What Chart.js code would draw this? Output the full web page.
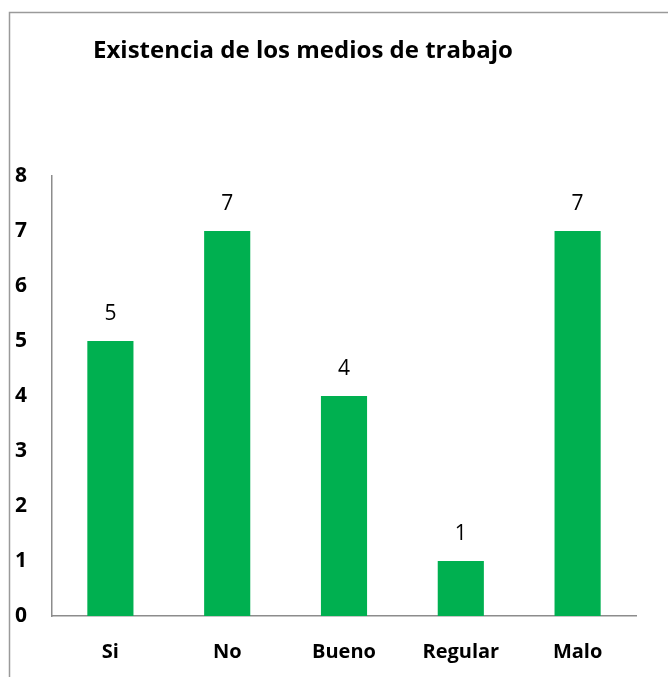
<!DOCTYPE html>
<html>
<head>
<meta charset="utf-8">
<script src="https://cdn.jsdelivr.net/npm/chart.js@4.4.0/dist/chart.umd.min.js"></script>
<style>
  html, body { margin: 0; padding: 0; background: #ffffff; }
  #wrap { position: relative; width: 668px; height: 677px; }
</style>
</head>
<body>
<div id="wrap"><canvas id="c" width="668" height="677"></canvas></div>
<script>
const chartTitle = "Existencia de los medios de trabajo";
const categories = ["Si", "No", "Bueno", "Regular", "Malo"];
const values = [5, 7, 4, 1, 7];
const yTicks = [0, 1, 2, 3, 4, 5, 6, 7, 8];

const FONT = "'Open Sans', Lato, sans-serif";
const GREEN = "#00B050";

const framePlugin = {
  id: "frame",
  beforeDraw(chart) {
    const ctx = chart.ctx;
    ctx.save();
    ctx.fillStyle = "#ffffff";
    ctx.fillRect(0, 0, chart.width, chart.height);
    ctx.strokeStyle = "#9a9a9a";
    ctx.lineWidth = 1.5;
    ctx.beginPath();
    ctx.moveTo(9.5, chart.height);
    ctx.lineTo(9.5, 12.5);
    ctx.lineTo(chart.width, 12.5);
    ctx.stroke();
    ctx.restore();
  },
  afterDraw(chart) {
    const ctx = chart.ctx;
    ctx.save();
    ctx.fillStyle = "#000000";
    ctx.font = "bold 24px " + FONT;
    ctx.textAlign = "left";
    ctx.textBaseline = "middle";
    ctx.fillText(chartTitle, 93, 51);
    // value labels
    const meta = chart.getDatasetMeta(0);
    ctx.font = "21px " + FONT;
    ctx.textAlign = "center";
    ctx.textBaseline = "middle";
    meta.data.forEach((bar, i) => {
      ctx.fillText(String(values[i]), bar.x, bar.y - 27);
    });
    ctx.restore();
  }
};

new Chart(document.getElementById("c"), {
  type: "bar",
  data: {
    labels: categories,
    datasets: [{
      data: values,
      backgroundColor: GREEN,
      borderWidth: 0,
      barPercentage: 0.395,
      categoryPercentage: 1.0
    }]
  },
  options: {
    responsive: false,
    animation: false,
    devicePixelRatio: 1,
    layout: { padding: { top: 176, right: 32, bottom: 0, left: 0 } },
    plugins: { legend: { display: false }, title: { display: false }, tooltip: { enabled: false } },
    scales: {
      x: {
        grid: { display: false, drawTicks: false },
        border: { display: true, color: "#8c8c8c", width: 1.5 },
        ticks: { color: "#000000", font: { family: FONT, size: 20, weight: "bold" }, padding: 24, maxRotation: 0 },
        afterFit(scale) { scale.height = 61; }
      },
      y: {
        min: 0,
        max: 8,
        grid: { display: false, drawTicks: false },
        border: { display: true, color: "#8c8c8c", width: 1.5 },
        afterBuildTicks(scale) { scale.ticks = yTicks.map(v => ({ value: v })); },
        ticks: { color: "#000000", font: { family: FONT, size: 21, weight: "bold" }, padding: 25 },
        afterFit(scale) { scale.width = 52; }
      }
    }
  },
  plugins: [framePlugin]
});
</script>
</body>
</html>
